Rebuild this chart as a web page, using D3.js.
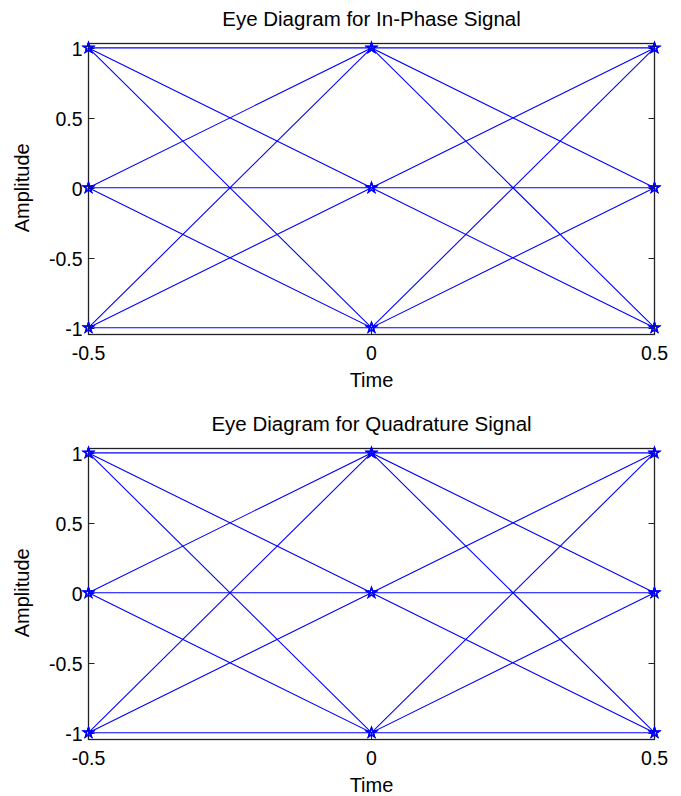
<!DOCTYPE html>
<html>
<head>
<meta charset="utf-8">
<script src="https://cdn.jsdelivr.net/npm/d3@7"></script>
<style>
  body { margin: 0; background: #fff; }
  text { font-family: Arial, "Liberation Sans", sans-serif; fill: #000; }
</style>
</head>
<body>
<script>
// sample times of one symbol period
var times = [-0.5, 0, 0.5];

// traces of the in-phase signal (value at each sample time)
var inPhaseTraces = [
  [1, 1, 1], [1, 0, -1], [1, -1, 0],
  [0, 1, -1], [0, 0, 0], [0, -1, 1],
  [-1, 1, 0], [-1, 0, 1], [-1, -1, -1]
];

// traces of the quadrature signal
var quadTraces = [
  [1, 1, 1], [1, 0, -1], [1, -1, 0],
  [0, 1, -1], [0, 0, 0], [0, -1, 1],
  [-1, 1, 0], [-1, 0, 1], [-1, -1, -1]
];

var xTicks = [-0.5, 0, 0.5];
var yTicks = [-1, -0.5, 0, 0.5, 1];

var width = 681, height = 796;

var svg = d3.select("body").append("svg")
    .attr("width", width)
    .attr("height", height);

var panels = [
  {title: "Eye Diagram for In-Phase Signal", traces: inPhaseTraces, top: 43},
  {title: "Eye Diagram for Quadrature Signal", traces: quadTraces, top: 448}
];

var left = 88.5, right = 654.5, boxH = 291;

var x = d3.scaleLinear().domain([-0.5, 0.5]).range([left, right]);

panels.forEach(function(p) {
  var y = d3.scaleLinear().domain([-1.045, 1.035]).range([p.top + boxH, p.top]);
  var g = svg.append("g");

  // box
  g.append("rect")
    .attr("x", left).attr("y", p.top + 0.5)
    .attr("width", right - left).attr("height", boxH)
    .attr("fill", "none").attr("stroke", "#222").attr("stroke-width", 1.3);

  var tl = 6;
  // y ticks, both sides, pointing in
  yTicks.forEach(function(t) {
    var yy = Math.round(y(t)) + 0.5;
    g.append("line").attr("x1", left).attr("x2", left + tl).attr("y1", yy).attr("y2", yy)
      .attr("stroke", "#222");
    g.append("line").attr("x1", right).attr("x2", right - tl).attr("y1", yy).attr("y2", yy)
      .attr("stroke", "#222");
    g.append("text")
      .attr("x", left - 6).attr("y", yy)
      .attr("text-anchor", "end").attr("dominant-baseline", "central")
      .attr("font-size", 19.5)
      .text(t);
  });

  // x ticks top and bottom
  xTicks.forEach(function(t) {
    var xx = x(t);
    g.append("line").attr("x1", xx).attr("x2", xx).attr("y1", p.top + boxH).attr("y2", p.top + boxH - tl)
      .attr("stroke", "#222");
    g.append("line").attr("x1", xx).attr("x2", xx).attr("y1", p.top).attr("y2", p.top + tl)
      .attr("stroke", "#222");
    g.append("text")
      .attr("x", xx).attr("y", p.top + boxH + 19)
      .attr("text-anchor", "middle").attr("dominant-baseline", "central")
      .attr("font-size", 19.5)
      .text(t);
  });

  // traces
  var line = d3.line()
    .x(function(d, i) { return x(times[i]); })
    .y(function(d) { return y(d); });

  g.selectAll("path.trace")
    .data(p.traces)
    .enter().append("path")
    .attr("class", "trace")
    .attr("d", line)
    .attr("fill", "none")
    .attr("stroke", "#0000ff")
    .attr("stroke-width", 1.1);

  // markers
  var star = d3.symbol().type(d3.symbolStar).size(30);
  p.traces.forEach(function(tr) {
    tr.forEach(function(v, i) {
      g.append("path")
        .attr("d", star)
        .attr("transform", "translate(" + x(times[i]) + "," + y(v) + ")")
        .attr("fill", "none")
        .attr("stroke", "#0000ff")
        .attr("stroke-width", 1.3);
    });
  });

  // title
  g.append("text")
    .attr("x", (left + right) / 2).attr("y", p.top - 25)
    .attr("text-anchor", "middle").attr("dominant-baseline", "central")
    .attr("font-size", 20.5)
    .text(p.title);

  // x label
  g.append("text")
    .attr("x", (left + right) / 2).attr("y", p.top + boxH + 46)
    .attr("text-anchor", "middle").attr("dominant-baseline", "central")
    .attr("font-size", 20)
    .text("Time");

  // y label
  g.append("text")
    .attr("transform", "translate(22," + y(0) + ") rotate(-90)")
    .attr("text-anchor", "middle").attr("dominant-baseline", "central")
    .attr("font-size", 20)
    .text("Amplitude");
});
</script>
</body>
</html>
